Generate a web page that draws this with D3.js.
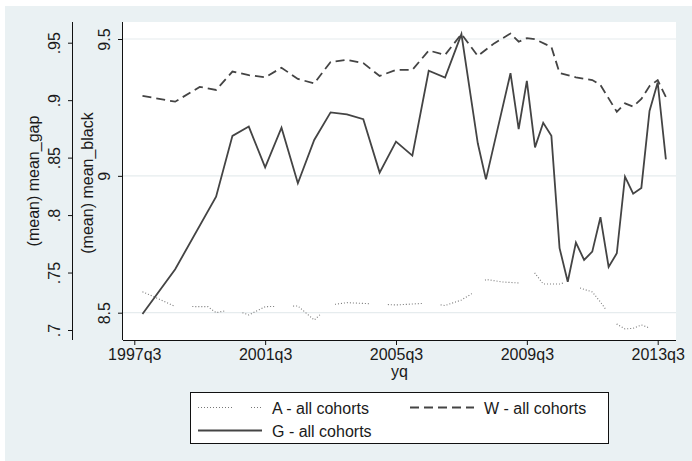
<!DOCTYPE html>
<html>
<head>
<meta charset="utf-8">
<script src="https://cdn.jsdelivr.net/npm/d3@7"></script>
<style>
  body { margin: 0; background: #fff; }
  text { font-family: "Liberation Sans", Arial, sans-serif; fill: #1a1a1a; }
</style>
</head>
<body>
<div id="chart"></div>
<script>
// quarters are counted from 1997q3 (= 0)
var xTickLabels = ["1997q3", "2001q3", "2005q3", "2009q3", "2013q3"];
var gapTicks = [0.7, 0.75, 0.8, 0.85, 0.9, 0.95];
var gapTickLabels = [".7", ".75", ".8", ".85", ".9", ".95"];
var blackTicks = [8.5, 9, 9.5];
var blackTickLabels = ["8.5", "9", "9.5"];

var aQuarters = ["1997q4", "1998q2", "1998q4", "1999q4", "2000q1", "2000q3", "2001q1", "2001q3", "2002q3", "2003q1",
  "2003q3", "2004q1", "2005q3", "2006q1", "2006q3", "2007q1", "2007q3", "2008q1", "2008q2", "2008q4",
  "2009q2", "2009q3", "2009q4", "2010q1", "2010q3", "2010q4", "2011q1", "2011q3", "2011q4", "2012q1",
  "2012q2", "2012q3", "2012q4", "2013q1", "2013q2", "2013q3"];
var aValues = [0.7333, 0.7270, 0.7205, 0.7203, 0.7151, 0.7180, 0.7131, 0.7203, 0.7209, 0.7087,
  0.7218, 0.7238, 0.7218, 0.7226, 0.7235, 0.7213, 0.7261, 0.7348, 0.7440, 0.7418,
  0.7409, 0.7431, 0.7494, 0.7400, 0.7400, 0.7420, 0.7377, 0.7331, 0.7244, 0.7144,
  0.7052, 0.7009, 0.7015, 0.7044, 0.7018, 0.7006];

var wQuarters = ["1997q4", "1998q4", "1999q3", "2000q1", "2000q3", "2001q1", "2001q3", "2002q1", "2002q3", "2003q1",
  "2003q3", "2004q1", "2004q3", "2005q1", "2005q3", "2006q1", "2006q3", "2007q1", "2007q3", "2008q1",
  "2008q3", "2009q1", "2009q2", "2009q3", "2009q4", "2010q2", "2010q3", "2011q1", "2011q3", "2011q4",
  "2012q1", "2012q2", "2012q3", "2012q4", "2013q1", "2013q2", "2013q3", "2013q4"];
var wValues = [9.292, 9.271, 9.325, 9.314, 9.381, 9.368, 9.360, 9.395, 9.354, 9.338,
  9.416, 9.424, 9.412, 9.365, 9.387, 9.387, 9.458, 9.442, 9.518, 9.438,
  9.484, 9.520, 9.490, 9.503, 9.499, 9.471, 9.376, 9.360, 9.350, 9.332,
  9.283, 9.234, 9.265, 9.253, 9.281, 9.328, 9.350, 9.288];

var gQuarters = ["1997q4", "1998q4", "2000q1", "2000q3", "2001q1", "2001q3", "2002q1", "2002q3", "2003q1", "2003q3",
  "2004q1", "2004q3", "2005q1", "2005q3", "2006q1", "2006q3", "2007q1", "2007q3", "2008q1", "2008q2",
  "2009q1", "2009q2", "2009q3", "2009q4", "2010q1", "2010q2", "2010q3", "2010q4", "2011q1", "2011q2",
  "2011q3", "2011q4", "2012q1", "2012q2", "2012q3", "2012q4", "2013q1", "2013q2", "2013q3", "2013q4"];
var gValues = [8.495, 8.659, 8.924, 9.146, 9.180, 9.031, 9.176, 8.973, 9.131, 9.232,
  9.225, 9.207, 9.012, 9.125, 9.074, 9.384, 9.359, 9.518, 9.119, 8.987,
  9.375, 9.171, 9.347, 9.104, 9.194, 9.146, 8.736, 8.613, 8.756, 8.693,
  8.723, 8.849, 8.667, 8.717, 8.997, 8.935, 8.956, 9.237, 9.341, 9.060];

var legendLabels = ["A - all cohorts", "W - all cohorts", "G - all cohorts"];

function qIndex(s) {
  var yr = +s.slice(0, 4), qt = +s.slice(5);
  return (yr - 1997) * 4 + (qt - 3);
}

function zip(qs, vs) {
  return qs.map(function(q, i) { return { q: qIndex(q), v: vs[i] }; });
}

var width = 692, height = 461;
var plot = { left: 123, right: 676, top: 22, bottom: 340 };

var svg = d3.select("#chart").append("svg")
  .attr("width", width)
  .attr("height", height);

// graph region background
svg.append("rect").attr("x", 0).attr("y", 0).attr("width", width).attr("height", height).attr("fill", "#fff");
svg.append("rect").attr("x", 5).attr("y", 6).attr("width", width - 5).attr("height", height - 6).attr("fill", "#eaf1f3");

svg.append("rect")
  .attr("x", plot.left).attr("y", plot.top)
  .attr("width", plot.right - plot.left).attr("height", plot.bottom - plot.top)
  .attr("fill", "#fff");

var x = d3.scaleLinear().domain([0, 64]).range([134.3, 657.7]);
var yBlack = d3.scaleLinear().domain([8.5, 9.5]).range([312.7, 39]);
var yGap = d3.scaleLinear().domain([0.7, 0.95]).range([330, 42.7]);

// gridlines
svg.append("g").selectAll("line")
  .data(blackTicks)
  .enter().append("line")
  .attr("x1", plot.left).attr("x2", plot.right)
  .attr("y1", function(d) { return yBlack(d); })
  .attr("y2", function(d) { return yBlack(d); })
  .attr("stroke", "#e6ecee")
  .attr("stroke-width", 1.2);

// x axis
var xAxis = d3.axisBottom(x)
  .tickValues(xTickLabels.map(qIndex))
  .tickFormat(function(d, i) { return xTickLabels[i]; })
  .tickSize(5)
  .tickPadding(4)
  .tickSizeOuter(0);

var gx = svg.append("g")
  .attr("transform", "translate(0," + plot.bottom + ")")
  .call(xAxis);
gx.select(".domain").attr("d", "M" + plot.left + ",0.5H" + plot.right);

// inner y axis (mean_black)
var yAxisBlack = d3.axisLeft(yBlack)
  .tickValues(blackTicks)
  .tickFormat(function(d, i) { return blackTickLabels[i]; })
  .tickSize(5)
  .tickSizeOuter(0);

var gyb = svg.append("g")
  .attr("transform", "translate(" + plot.left + ",0)")
  .call(yAxisBlack);
gyb.select(".domain").attr("d", "M-0.5," + plot.top + "V" + plot.bottom);

// outer y axis (mean_gap)
var yAxisGap = d3.axisLeft(yGap)
  .tickValues(gapTicks)
  .tickFormat(function(d, i) { return gapTickLabels[i]; })
  .tickSize(5)
  .tickSizeOuter(0);

var gyg = svg.append("g")
  .attr("transform", "translate(73,0)")
  .call(yAxisGap);
gyg.select(".domain").attr("d", "M-0.5," + plot.top + "V" + plot.bottom);

svg.selectAll(".domain").attr("stroke", "#111");
svg.selectAll(".tick line").attr("stroke", "#111");
svg.selectAll(".tick text").attr("font-size", 16).attr("font-family", "Liberation Sans, Arial, sans-serif").attr("fill", "#1a1a1a");

// rotate y tick labels
[gyb, gyg].forEach(function(g) {
  g.selectAll(".tick text")
    .attr("x", null).attr("dy", null)
    .attr("text-anchor", "middle")
    .attr("transform", "translate(-13,0) rotate(-90)");
});

// axis titles
svg.append("text")
  .attr("transform", "translate(38.5,181) rotate(-90)")
  .attr("text-anchor", "middle")
  .attr("font-size", 16)
  .text("(mean) mean_gap");

svg.append("text")
  .attr("transform", "translate(92.5,183) rotate(-90)")
  .attr("text-anchor", "middle")
  .attr("font-size", 16)
  .text("(mean) mean_black");

svg.append("text")
  .attr("x", (plot.left + plot.right) / 2)
  .attr("y", 377)
  .attr("text-anchor", "middle")
  .attr("font-size", 16)
  .text("yq");

// series
var dotPattern = "1,2,1,2,1,2,1,2,1,2,1,2,1,2,1,2,1,2,1,2,1,2,1,19";
var lineColor = "#444";

var gapLine = d3.line()
  .x(function(d) { return x(d.q); })
  .y(function(d) { return yGap(d.v); });

var blackLine = d3.line()
  .x(function(d) { return x(d.q); })
  .y(function(d) { return yBlack(d.v); });

svg.append("path")
  .attr("d", gapLine(zip(aQuarters, aValues)))
  .attr("fill", "none")
  .attr("stroke", "#777")
  .attr("stroke-width", 1.1)
  .attr("stroke-dasharray", dotPattern);

svg.append("path")
  .attr("d", blackLine(zip(wQuarters, wValues)))
  .attr("fill", "none")
  .attr("stroke", lineColor)
  .attr("stroke-width", 1.8)
  .attr("stroke-dasharray", "9,5");

svg.append("path")
  .attr("d", blackLine(zip(gQuarters, gValues)))
  .attr("fill", "none")
  .attr("stroke", lineColor)
  .attr("stroke-width", 1.8)
  .attr("stroke-linejoin", "miter");

// legend
var legend = svg.append("g");
legend.append("rect")
  .attr("x", 190.5).attr("y", 392.5)
  .attr("width", 418).attr("height", 51)
  .attr("fill", "#fff")
  .attr("stroke", "#111");

var items = [
  { x: 198, y: 407.5, dash: dotPattern, color: "#777", w: 1.1, label: legendLabels[0] },
  { x: 410, y: 407.5, dash: "9,5", color: lineColor, w: 1.8, label: legendLabels[1] },
  { x: 198, y: 430.5, dash: null, color: lineColor, w: 1.8, label: legendLabels[2] }
];

items.forEach(function(it) {
  legend.append("line")
    .attr("x1", it.x).attr("x2", it.x + 64)
    .attr("y1", it.y).attr("y2", it.y)
    .attr("stroke", it.color)
    .attr("stroke-width", it.w)
    .attr("stroke-dasharray", it.dash);
  legend.append("text")
    .attr("x", it.x + 74)
    .attr("y", it.y + 6.5)
    .attr("font-size", 16)
    .text(it.label);
});
</script>
</body>
</html>
